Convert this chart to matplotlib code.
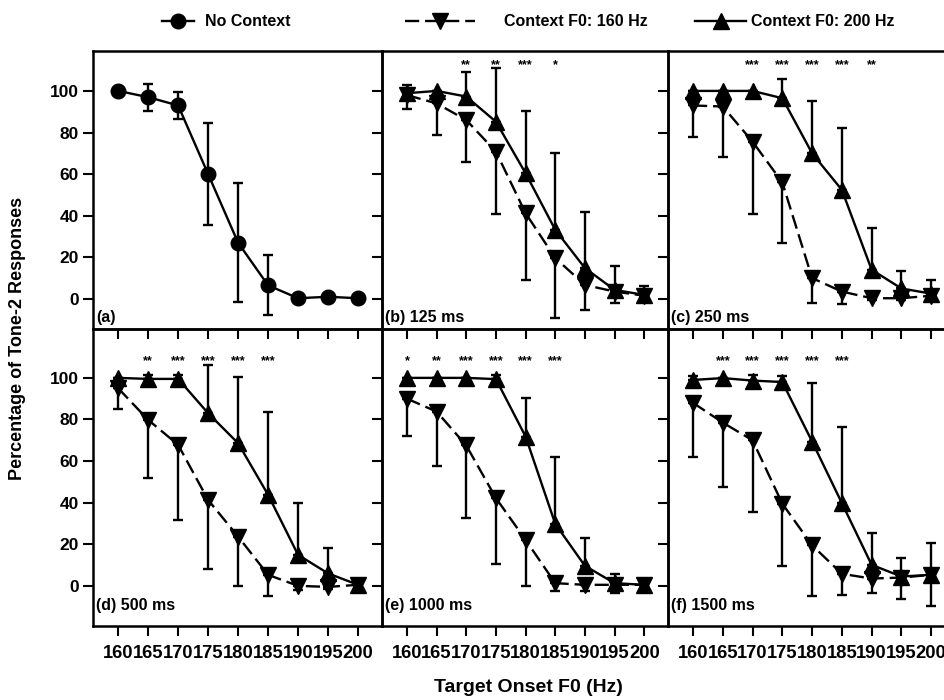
import numpy as np
import matplotlib
matplotlib.use('Agg')
import matplotlib.pyplot as plt
from matplotlib.lines import Line2D

plt.rcParams['font.family'] = ['Liberation Sans', 'DejaVu Sans']
plt.rcParams['font.weight'] = 'bold'

# === data ===
f0 = [160, 165, 170, 175, 180, 185, 190, 195, 200]

no_ctx = [100, 97, 93, 60, 27, 6.5, 0.3, 1, 0.3]
no_ctx_sd = [0, 6.5, 6.5, 24.5, 28.5, 14.5, 0, 0, 0]

b_160 = [98, 94, 86, 70.8, 41.2, 19.6, 6.7, 3.5, 1.5]
b_160_err = [6.7, 15, 20, 30, 32, 29, 12, 5.5, 3]
b_200 = [98.9, 100, 97.3, 85.2, 60.4, 33.2, 14.8, 4.3, 1.9]
b_200_err = [4, 0, 12, 25.7, 30, 37, 27, 11.7, 4.5]

c_160 = [93, 92.5, 75.6, 56, 10, 3.5, 0.3, 0.3, 1.5]
c_160_err = [15, 24.5, 35, 29, 12, 6, 1, 1, 1]
c_200 = [100, 100, 100, 96.5, 70, 52.4, 14, 5, 2.5]
c_200_err = [0, 0, 0, 9, 25, 30, 20, 8.5, 6.5]

d_160 = [95, 79.8, 67.8, 41.3, 23.7, 5.3, 0, -0.5, 0.5]
d_160_err = [10, 28, 36, 33, 24, 10, 2, 1, 0]
d_200 = [100, 99.5, 99.5, 83, 68.6, 43.8, 14.9, 6, 0.5]
d_200_err = [0, 2, 2, 23, 32, 40, 25, 12, 0]

e_160 = [90, 83.8, 67.5, 42.2, 22.1, 1.3, 0.5, 0.5, 0.5]
e_160_err = [18, 26, 35, 31.6, 22, 3.7, 3, 4, 0]
e_200 = [100, 100, 100, 99.4, 71.8, 29.8, 9.6, 1.3, 0.5]
e_200_err = [0, 0, 0, 2, 18.4, 32, 13.6, 4.3, 0]

f_160 = [88, 78.5, 70, 39.5, 19.5, 5.8, 3.5, 4, 5.3]
f_160_err = [26, 31, 34.5, 30, 24.5, 10.4, 7, 10.5, 15]
f_200 = [99, 99.9, 98.7, 98, 69.4, 39.8, 10.1, 4.5, 5.3]
f_200_err = [2, 0, 2.7, 3, 28, 36.5, 15.2, 8.8, 15.5]

b_stars = ['', '', '**', '**', '***', '*', '', '', '']
c_stars = ['', '', '***', '***', '***', '***', '**', '', '']
d_stars = ['', '**', '***', '***', '***', '***', '', '', '']
e_stars = ['*', '**', '***', '***', '***', '***', '', '', '']
f_stars = ['', '***', '***', '***', '***', '***', '', '', '']

panel_labels = ['(a)', '(b) 125 ms', '(c) 250 ms', '(d) 500 ms', '(e) 1000 ms', '(f) 1500 ms']
yticks = [0, 20, 40, 60, 80, 100]

# === layout (figure px -> fraction) ===
W, H = 944, 700
fig = plt.figure(figsize=(W / 100, H / 100), dpi=100)
col_x = [93, 382, 668]
col_w = [289, 286, 287]
row_top = [51, 329]
row_h = [278, 297]
row_ylim = [(-14.5, 119.2), (-19.3, 123.5)]
star_y = [112.5, 108]

ctx = [
    None,
    (b_160, b_160_err, b_200, b_200_err, b_stars),
    (c_160, c_160_err, c_200, c_200_err, c_stars),
    (d_160, d_160_err, d_200, d_200_err, d_stars),
    (e_160, e_160_err, e_200, e_200_err, e_stars),
    (f_160, f_160_err, f_200, f_200_err, f_stars),
]

LW = 1.7
MS = 11
for i in range(6):
    r, c = divmod(i, 3)
    ax = fig.add_axes([col_x[c] / W, (H - row_top[r] - row_h[r]) / H,
                       col_w[c] / W, row_h[r] / H])
    ax.patch.set_alpha(0)
    ax.set_xlim(155.8, 204)
    ax.set_ylim(*row_ylim[r])
    ax.set_xticks(f0)
    ax.set_yticks(yticks)
    ax.tick_params(direction='out', length=7, width=1.5, labelsize=12.5, pad=3)
    if r == 0:
        ax.set_xticklabels([])
    else:
        ax.tick_params(axis='x', pad=7, labelsize=13.2)
    if c > 0:
        ax.set_yticklabels([])
    for s in ax.spines.values():
        s.set_linewidth(1.8)

    if i == 0:
        ax.errorbar(f0, no_ctx, yerr=no_ctx_sd, fmt='none', ecolor='black',
                    elinewidth=LW, capsize=3.8, capthick=LW, zorder=2)
        ax.plot(f0, no_ctx, '-', color='black', lw=LW, marker='o', ms=MS - 0.5, zorder=3)
    else:
        y160, e160, y200, e200, stars = ctx[i]
        zeros = [0] * len(f0)
        ax.errorbar(f0, y160, yerr=[e160, zeros], fmt='none', ecolor='black',
                    elinewidth=LW, capsize=3.8, capthick=LW, zorder=2)
        ax.errorbar(f0, y200, yerr=[zeros, e200], fmt='none', ecolor='black',
                    elinewidth=LW, capsize=3.8, capthick=LW, zorder=2)
        ax.plot(f0, y160, color='black', lw=LW, dashes=(6, 2.5), marker='v', ms=MS, zorder=3)
        ax.plot(f0, y200, '-', color='black', lw=LW, marker='^', ms=MS, zorder=3)
        for xv, st in zip(f0, stars):
            if st:
                ax.text(xv, star_y[r], st, ha='center', va='center', fontsize=9)

    ax.text(0.012, 0.04 if r == 0 else 0.07, panel_labels[i], transform=ax.transAxes,
            ha='left', va='center', fontsize=11.5)

fig.text(18 / W, 1 - 338 / H, 'Percentage of Tone-2 Responses', rotation=90,
         ha='center', va='center', fontsize=13)
fig.text(528 / W, 1 - 688 / H, 'Target Onset F0 (Hz)', ha='center', va='center', fontsize=14)

# legend, three separate entries along the top
h_none = Line2D([], [], color='black', lw=LW, marker='o', ms=MS - 0.5)
h_160 = Line2D([], [], color='black', lw=LW, dashes=(6, 2.5), marker='v', ms=MS)
h_200 = Line2D([], [], color='black', lw=LW, marker='^', ms=MS)
for h, lab, xl, hl, tp in [(h_none, 'No Context', 162, 2.0, 0.7),
                           (h_160, 'Context F0: 160 Hz', 405, 4.4, 1.8),
                           (h_200, 'Context F0: 200 Hz', 695, 3.2, 0.3)]:
    fig.legend([h], [lab], loc='center left', bbox_to_anchor=(xl / W, 1 - 22 / H),
               frameon=False, handlelength=hl, handletextpad=tp, fontsize=11.5,
               borderaxespad=0, borderpad=0)

fig.savefig('out.png', dpi=100)
